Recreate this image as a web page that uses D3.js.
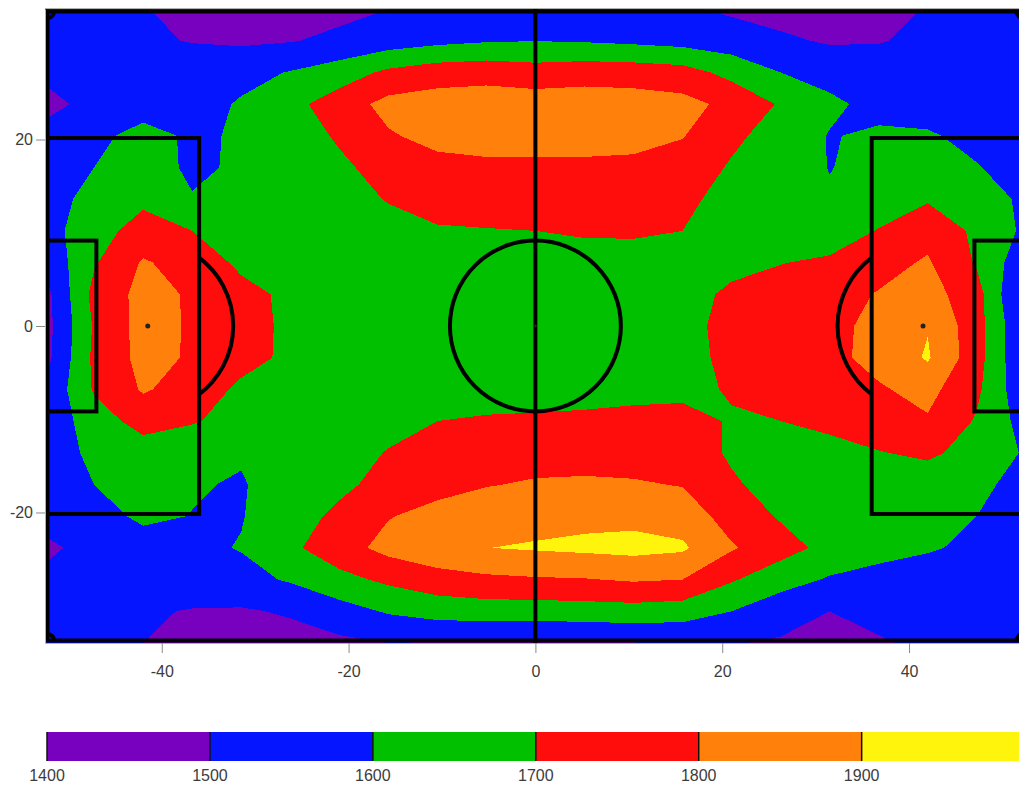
<!DOCTYPE html>
<html>
<head>
<meta charset="utf-8">
<script src="https://cdn.jsdelivr.net/npm/d3@7"></script>
<style>
  body { margin: 0; background: #fff; }
  text { font-family: "Liberation Sans", Arial, sans-serif; }
</style>
</head>
<body>
<script>
// grid node positions on the pitch (metres)
const gridX = [-52.5, -47.25, -42, -36.75, -31.5, -26.25, -21, -15.75, -10.5, -5.25, 0,
               5.25, 10.5, 15.75, 21, 26.25, 31.5, 36.75, 42, 47.25, 52.5];
const gridY = [34, 30.6, 27.2, 23.8, 20.4, 17, 13.6, 10.2, 6.8, 3.4, 0,
               -3.4, -6.8, -10.2, -13.6, -17, -20.4, -23.8, -27.2, -30.6, -34];

// contour levels and band colours
const levels = [1400, 1500, 1600, 1700, 1800, 1900, 2000];
const bandColors = ['#7800bf', '#0515ff', '#00c000', '#ff0c0c', '#ff800a', '#fff50c'];

const xTicks = [-40, -20, 0, 20, 40];
const yTicks = [20, 0, -20];

// values, one row per gridY (top to bottom)
const values = [
  [1540,1520,1505,1470,1455,1460,1475,1500,1525,1545,1555,1545,1530,1510,1485,1465,1455,1470,1505,1525,1540],
  [1530,1525,1515,1495,1485,1495,1520,1550,1575,1592,1598,1592,1580,1565,1545,1515,1490,1495,1520,1530,1535],
  [1520,1540,1550,1560,1570,1605,1650,1720,1755,1765,1745,1760,1755,1740,1670,1600,1565,1545,1540,1535,1530],
  [1470,1530,1545,1560,1610,1670,1750,1830,1845,1850,1850,1850,1845,1830,1775,1690,1620,1570,1560,1545,1535],
  [1530,1570,1640,1582,1612,1660,1710,1790,1830,1840,1840,1840,1835,1805,1720,1660,1595,1615,1610,1575,1545],
  [1540,1600,1640,1585,1612,1655,1685,1730,1770,1780,1780,1780,1775,1755,1690,1650,1597,1630,1640,1605,1560],
  [1560,1630,1680,1605,1625,1645,1665,1705,1740,1750,1745,1750,1750,1720,1670,1640,1610,1650,1690,1650,1580],
  [1560,1660,1740,1700,1640,1630,1640,1670,1690,1695,1700,1710,1710,1700,1660,1640,1650,1705,1770,1680,1580],
  [1520,1690,1810,1760,1680,1650,1640,1650,1660,1665,1665,1665,1670,1675,1685,1697,1715,1770,1810,1690,1530],
  [1465,1730,1830,1790,1730,1680,1655,1650,1650,1650,1650,1655,1665,1680,1710,1740,1770,1805,1840,1740,1460],
  [1460,1710,1835,1790,1740,1680,1650,1640,1640,1640,1640,1645,1660,1680,1720,1750,1770,1830,1895,1740,1500],
  [1465,1720,1830,1790,1735,1680,1650,1640,1640,1640,1640,1645,1660,1680,1715,1745,1775,1830,1910,1740,1500],
  [1510,1710,1810,1760,1680,1650,1640,1635,1635,1640,1645,1655,1670,1685,1705,1730,1760,1790,1830,1720,1520],
  [1530,1650,1740,1710,1660,1640,1650,1670,1700,1715,1720,1725,1730,1720,1695,1700,1730,1760,1790,1690,1560],
  [1550,1620,1650,1620,1610,1630,1660,1705,1740,1755,1760,1760,1755,1740,1690,1650,1660,1695,1720,1660,1590],
  [1560,1600,1640,1608,1592,1650,1680,1730,1770,1795,1810,1815,1810,1795,1710,1670,1650,1650,1640,1620,1570],
  [1550,1570,1615,1598,1595,1660,1720,1795,1830,1855,1865,1875,1875,1855,1760,1690,1650,1640,1630,1600,1560],
  [1470,1550,1565,1580,1605,1680,1760,1830,1870,1899,1910,1920,1930,1915,1810,1740,1670,1640,1610,1580,1560],
  [1530,1530,1540,1550,1570,1610,1670,1720,1760,1780,1790,1795,1810,1800,1710,1640,1590,1560,1550,1540,1530],
  [1520,1515,1510,1495,1490,1510,1560,1610,1640,1650,1650,1655,1660,1650,1600,1540,1500,1515,1525,1530,1520],
  [1530,1515,1500,1470,1460,1465,1480,1500,1495,1490,1480,1492,1497,1505,1505,1490,1465,1495,1510,1520,1530]
];

function drawPitch(g, x, y) {
    const r = x(9.15) - x(0);
    const inset = 2.5;

    // outline and halfway line
    g.append('rect')
        .attr('x', x(-52.5) + inset).attr('y', y(34) + inset)
        .attr('width', x(52.5) - x(-52.5) - 2 * inset)
        .attr('height', y(-34) - y(34) - 2 * inset);
    g.append('line')
        .attr('x1', x(0)).attr('x2', x(0))
        .attr('y1', y(34)).attr('y2', y(-34));
    g.append('circle').attr('cx', x(0)).attr('cy', y(0)).attr('r', r);

    [-1, 1].forEach(s => {
        // penalty box
        const bx = [x(s * 52.5), x(s * 36)];
        g.append('rect')
            .attr('x', d3.min(bx)).attr('y', y(20.16))
            .attr('width', Math.abs(bx[1] - bx[0]))
            .attr('height', y(-20.16) - y(20.16));
        // goal area
        const gxs = [x(s * 52.5), x(s * 47)];
        g.append('rect')
            .attr('x', d3.min(gxs)).attr('y', y(9.16))
            .attr('width', Math.abs(gxs[1] - gxs[0]))
            .attr('height', y(-9.16) - y(9.16));
        // penalty arc, outside the box only
        const a = Math.acos(5.5 / 9.15);
        const p = d3.path();
        const base = s < 0 ? 0 : Math.PI;
        p.arc(x(s * 41.5), y(0), r, base - a, base + a);
        g.append('path').attr('d', p.toString());
        // penalty spot
        g.append('circle')
            .attr('cx', x(s * 41.5)).attr('cy', y(0)).attr('r', 2.5)
            .attr('fill', '#222').attr('stroke', 'none');
    });

    // corner arcs
    const cr = x(0.7) - x(0);
    [[-52.5, 34, 0], [52.5, 34, 0.5], [52.5, -34, 1], [-52.5, -34, 1.5]].forEach(c => {
        const p = d3.path();
        const a0 = c[2] * Math.PI;
        p.arc(x(c[0]) + (c[0] < 0 ? inset : -inset), y(c[1]) + (c[1] > 0 ? inset : -inset),
              cr, a0, a0 + Math.PI / 2);
        g.append('path').attr('d', p.toString());
    });

    g.append('circle')
        .attr('cx', x(0)).attr('cy', y(0)).attr('r', 1.5)
        .attr('fill', '#222').attr('stroke', 'none');
}

function renderChart() {
    const width = 1019;
    const height = 785;

    const svg = d3.select('body').append('svg')
        .attr('width', width)
        .attr('height', height);

    // pitch scales (same metres-per-pixel both ways)
    const x = d3.scaleLinear().domain([-52.5, 52.5]).range([45, 1025.8]);
    const y = d3.scaleLinear().domain([34, -34]).range([9, 643]);

    // grid index -> metres (d3.contours puts value i at i + 0.5)
    const gx = d3.scaleLinear().domain([0.5, gridX.length - 0.5]).range([gridX[0], gridX[gridX.length - 1]]);
    const gy = d3.scaleLinear().domain([0.5, gridY.length - 0.5]).range([gridY[0], gridY[gridY.length - 1]]);

    const color = d3.scaleThreshold().domain(levels.slice(1, -1)).range(bandColors);

    svg.append('clipPath').attr('id', 'pitch-clip')
        .append('rect')
        .attr('x', x(-52.5)).attr('y', y(34))
        .attr('width', x(52.5) - x(-52.5))
        .attr('height', y(-34) - y(34));

    const plot = svg.append('g').attr('clip-path', 'url(#pitch-clip)');

    // lowest band as background
    plot.append('rect')
        .attr('x', x(-52.5)).attr('y', y(34))
        .attr('width', x(52.5) - x(-52.5))
        .attr('height', y(-34) - y(34))
        .attr('fill', bandColors[0]);

    const contours = d3.contours()
        .size([gridX.length, gridY.length])
        .thresholds(levels.slice(1, -1))(values.flat());

    const proj = d3.geoTransform({
        point: function(px, py) { this.stream.point(x(gx(px)), y(gy(py))); }
    });
    const path = d3.geoPath(proj);

    plot.selectAll('path.band')
        .data(contours)
        .enter()
        .append('path')
        .attr('class', 'band')
        .attr('d', path)
        .attr('fill', d => color(d.value))
        .attr('shape-rendering', 'crispEdges');

    // pitch markings
    const pitch = plot.append('g')
        .attr('fill', 'none')
        .attr('stroke', '#000')
        .attr('stroke-width', 4);
    drawPitch(pitch, x, y);

    // axes
    const axisColor = '#8a8a8a';
    const xAxis = svg.append('g')
        .attr('transform', `translate(0,${y(-34)})`)
        .call(d3.axisBottom(x).tickValues(xTicks).tickFormat(d => String(d))
              .tickSize(10).tickSizeOuter(0).tickPadding(13));
    const yAxis = svg.append('g')
        .attr('transform', `translate(${x(-52.5)},0)`)
        .call(d3.axisLeft(y).tickValues(yTicks).tickFormat(d => String(d))
              .tickSize(9).tickSizeOuter(0).tickPadding(3));

    svg.append('line')
        .attr('x1', x(-52.5)).attr('x2', x(52.5))
        .attr('y1', y(34) - 0.5).attr('y2', y(34) - 0.5)
        .attr('stroke', '#b0b0b0');

    [xAxis, yAxis].forEach(a => {
        a.selectAll('path.domain').attr('stroke', '#b0b0b0');
        a.selectAll('line').attr('stroke', axisColor);
        a.selectAll('text')
            .attr('font-size', '16px')
            .attr('fill', '#3c3c3c')
            .attr('font-family', '"Liberation Sans", Arial, sans-serif');
    });

    // colour bar
    const cb = d3.scaleLinear().domain([levels[0], levels[levels.length - 1]]).range([47, 1024.6]);
    const cbTop = 732, cbH = 29;
    const bands = d3.range(bandColors.length).map(i => ({ lo: levels[i], hi: levels[i + 1], c: bandColors[i] }));

    svg.selectAll('rect.cb')
        .data(bands)
        .enter()
        .append('rect')
        .attr('class', 'cb')
        .attr('x', d => cb(d.lo))
        .attr('y', cbTop)
        .attr('width', d => cb(d.hi) - cb(d.lo))
        .attr('height', cbH)
        .attr('fill', d => d.c);

    svg.selectAll('line.cb-sep')
        .data(levels.slice(0, -1))
        .enter()
        .append('line')
        .attr('class', 'cb-sep')
        .attr('x1', d => cb(d)).attr('x2', d => cb(d))
        .attr('y1', cbTop).attr('y2', cbTop + cbH)
        .attr('stroke', '#111')
        .attr('stroke-width', 1.5);

    svg.selectAll('text.cb-label')
        .data(levels.slice(0, -1))
        .enter()
        .append('text')
        .attr('class', 'cb-label')
        .attr('x', d => cb(d))
        .attr('y', 781)
        .attr('text-anchor', 'middle')
        .attr('font-size', '16px')
        .attr('fill', '#3c3c3c')
        .text(d => d);
}

window.addEventListener('load', function() {
    requestAnimationFrame(renderChart);
});
</script>
</body>
</html>
